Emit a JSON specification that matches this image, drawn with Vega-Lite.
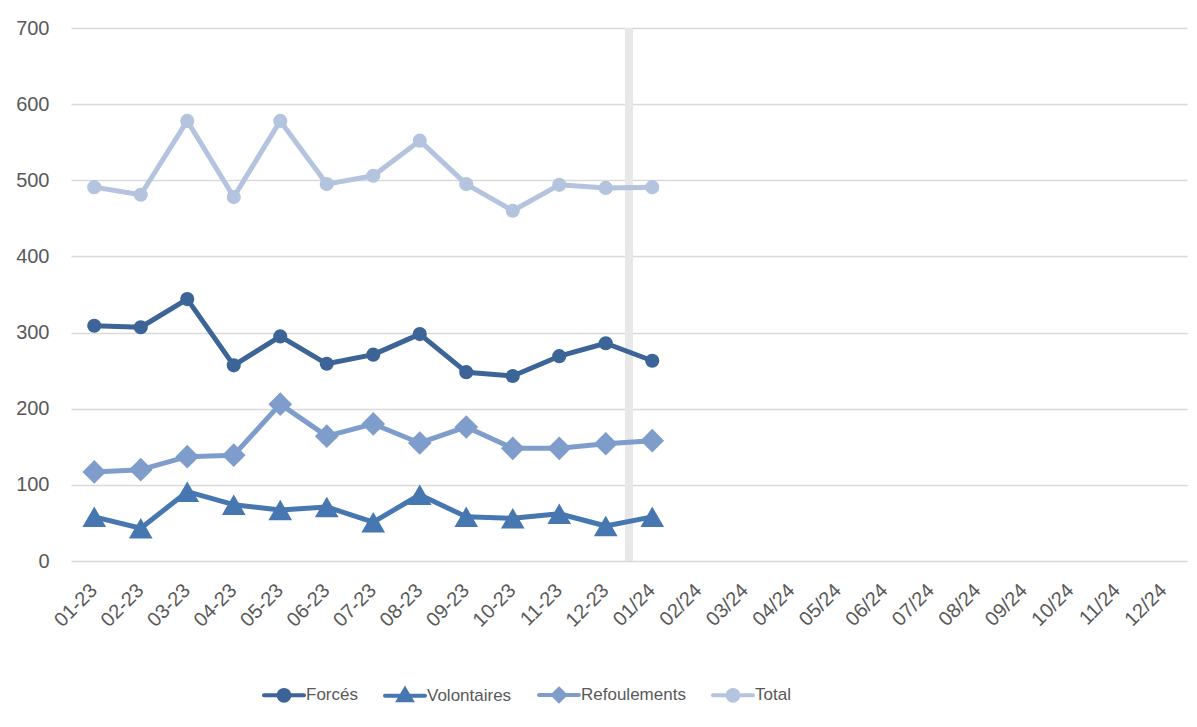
{
  "$schema": "https://vega.github.io/schema/vega-lite/v6.json",
  "autosize": {"type": "none"},
  "padding": {"left": 71, "top": 28, "right": 10, "bottom": 166},
  "width": 1116,
  "height": 533,
  "background": "white",
  "config": {
    "view": {"stroke": null},
    "font": "Liberation Sans"
  },
  "data": {
    "values": [
      {"month": "01-23", "series": "Forcés", "value": 309},
      {"month": "02-23", "series": "Forcés", "value": 307},
      {"month": "03-23", "series": "Forcés", "value": 344},
      {"month": "04-23", "series": "Forcés", "value": 257},
      {"month": "05-23", "series": "Forcés", "value": 295},
      {"month": "06-23", "series": "Forcés", "value": 259},
      {"month": "07-23", "series": "Forcés", "value": 271},
      {"month": "08-23", "series": "Forcés", "value": 298},
      {"month": "09-23", "series": "Forcés", "value": 248},
      {"month": "10-23", "series": "Forcés", "value": 243},
      {"month": "11-23", "series": "Forcés", "value": 269},
      {"month": "12-23", "series": "Forcés", "value": 286},
      {"month": "01/24", "series": "Forcés", "value": 263},
      {"month": "01-23", "series": "Volontaires", "value": 58},
      {"month": "02-23", "series": "Volontaires", "value": 43},
      {"month": "03-23", "series": "Volontaires", "value": 91},
      {"month": "04-23", "series": "Volontaires", "value": 74},
      {"month": "05-23", "series": "Volontaires", "value": 67},
      {"month": "06-23", "series": "Volontaires", "value": 71},
      {"month": "07-23", "series": "Volontaires", "value": 51},
      {"month": "08-23", "series": "Volontaires", "value": 87},
      {"month": "09-23", "series": "Volontaires", "value": 58},
      {"month": "10-23", "series": "Volontaires", "value": 56},
      {"month": "11-23", "series": "Volontaires", "value": 62},
      {"month": "12-23", "series": "Volontaires", "value": 46},
      {"month": "01/24", "series": "Volontaires", "value": 58},
      {"month": "01-23", "series": "Refoulements", "value": 117},
      {"month": "02-23", "series": "Refoulements", "value": 120},
      {"month": "03-23", "series": "Refoulements", "value": 137},
      {"month": "04-23", "series": "Refoulements", "value": 139},
      {"month": "05-23", "series": "Refoulements", "value": 206},
      {"month": "06-23", "series": "Refoulements", "value": 164},
      {"month": "07-23", "series": "Refoulements", "value": 180},
      {"month": "08-23", "series": "Refoulements", "value": 155},
      {"month": "09-23", "series": "Refoulements", "value": 176},
      {"month": "10-23", "series": "Refoulements", "value": 148},
      {"month": "11-23", "series": "Refoulements", "value": 148},
      {"month": "12-23", "series": "Refoulements", "value": 154},
      {"month": "01/24", "series": "Refoulements", "value": 158},
      {"month": "01-23", "series": "Total", "value": 491},
      {"month": "02-23", "series": "Total", "value": 481},
      {"month": "03-23", "series": "Total", "value": 578},
      {"month": "04-23", "series": "Total", "value": 478},
      {"month": "05-23", "series": "Total", "value": 578},
      {"month": "06-23", "series": "Total", "value": 495},
      {"month": "07-23", "series": "Total", "value": 506},
      {"month": "08-23", "series": "Total", "value": 552},
      {"month": "09-23", "series": "Total", "value": 495},
      {"month": "10-23", "series": "Total", "value": 460},
      {"month": "11-23", "series": "Total", "value": 494},
      {"month": "12-23", "series": "Total", "value": 490},
      {"month": "01/24", "series": "Total", "value": 491}
    ]
  },
  "encoding": {
    "x": {
      "field": "month",
      "type": "nominal",
      "title": null,
      "scale": {
        "domain": ["01-23","02-23","03-23","04-23","05-23","06-23","07-23","08-23","09-23","10-23","11-23","12-23","01/24","02/24","03/24","04/24","05/24","06/24","07/24","08/24","09/24","10/24","11/24","12/24"],
        "paddingInner": 0, "paddingOuter": 0
      },
      "axis": {
        "labelAngle": -45,
        "labelAlign": "right",
        "labelBaseline": "middle",
        "labelPadding": 26,
        "labelFontSize": 20,
        "labelColor": "#595959",
        "ticks": false,
        "domain": false,
        "grid": false
      }
    },
    "y": {
      "field": "value", "type": "quantitative", "title": null,
      "scale": {"domain": [0, 700], "nice": false},
      "axis": {
        "values": [0,100,200,300,400,500,600,700],
        "labelFontSize": 20, "labelColor": "#595959", "labelPadding": 22,
        "ticks": false, "domain": false,
        "gridColor": "#d9d9d9", "gridWidth": 1.5
      }
    }
  },
  "layer": [
    {
      "data": {"values": [{"month": "01/24"}]},
      "mark": {"type": "rule", "stroke": "#e8e8e8", "strokeWidth": 8},
      "encoding": {
        "x": {"field": "month", "type": "nominal", "bandPosition": 0},
        "y": null
      }
    },
    {
      "mark": {"type": "line", "strokeWidth": 5, "strokeCap": "round", "strokeJoin": "round"},
      "encoding": {
        "color": {
          "field": "series", "type": "nominal",
          "scale": {"domain": ["Forcés","Volontaires","Refoulements","Total"], "range": ["#3c6496","#4677b1","#7f9dca","#b4c3de"]},
          "legend": {
            "title": null,
            "orient": "none",
            "direction": "horizontal",
            "legendX": 191,
            "legendY": 645,
            "columnPadding": 19,
            "labelOffset": 0,
            "labelFont": "Liberation Sans",
            "labelFontSize": 17,
            "labelColor": "#595959",
            "symbolSize": 1600,
            "symbolStrokeWidth": 4,
            "encode": {
              "symbols": {
                "update": {
                  "shape": {"signal": "datum.value === 'Forcés' || datum.value === 'Total' ? 'M-1,0H1M0.27,0A0.27,0.27,0,1,1,-0.27,0A0.27,0.27,0,1,1,0.27,0Z' : datum.value === 'Volontaires' ? 'M-1,0H1M0,-0.32L0.32,0.22L-0.32,0.22Z' : 'M-1,0H1M0,-0.3L0.3,0L0,0.3L-0.3,0Z'"},
                  "fill": {"scale": "color", "field": "value"},
                  "stroke": {"scale": "color", "field": "value"},
                  "strokeWidth": {"value": 4},
                  "strokeCap": {"value": "round"},
                  "fillOpacity": {"value": 1}
                }
              }
            }
          }
        }
      }
    },
    {
      "transform": [{"filter": "datum.series === 'Forcés'"}],
      "mark": {"type": "point", "filled": true, "opacity": 1, "shape": "circle", "size": 200, "color": "#3c6496"},
      "encoding": {}
    },
    {
      "transform": [{"filter": "datum.series === 'Volontaires'"}],
      "mark": {"type": "point", "filled": true, "opacity": 1, "shape": "triangle-up", "size": 560, "color": "#4677b1"},
      "encoding": {}
    },
    {
      "transform": [{"filter": "datum.series === 'Refoulements'"}],
      "mark": {"type": "point", "filled": true, "opacity": 1, "shape": "diamond", "size": 560, "color": "#7f9dca"},
      "encoding": {}
    },
    {
      "transform": [{"filter": "datum.series === 'Total'"}],
      "mark": {"type": "point", "filled": true, "opacity": 1, "shape": "circle", "size": 200, "color": "#b4c3de"},
      "encoding": {}
    }
  ]
}
